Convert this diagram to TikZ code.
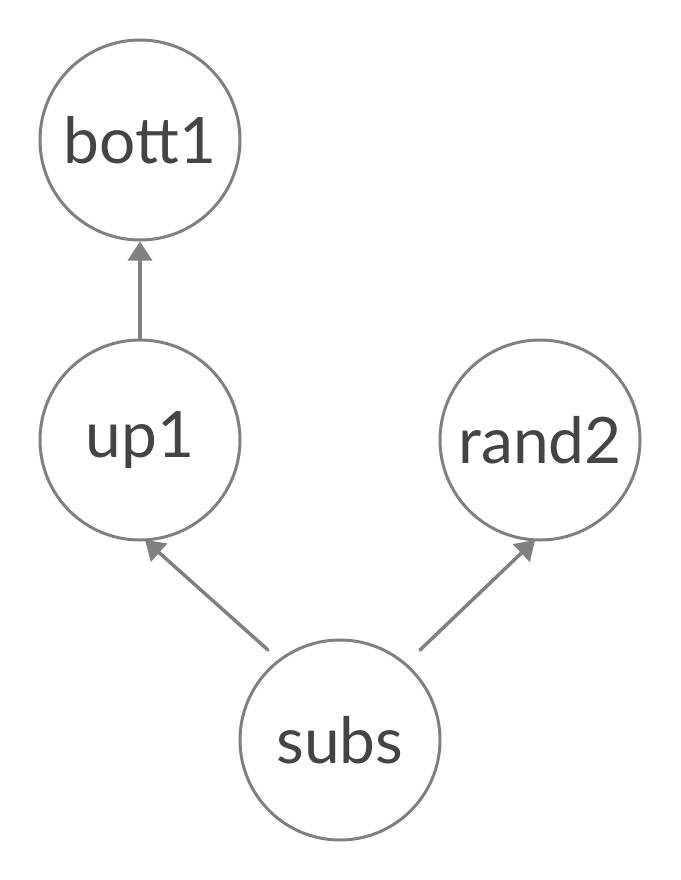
\documentclass[tikz,border=0pt]{standalone}
\usepackage{fontspec}
\setmainfont{Lato}
\usetikzlibrary{arrows.meta,calc}
\definecolor{edgegray}{HTML}{808080}
\definecolor{textgray}{HTML}{444444}
\begin{document}
\begin{tikzpicture}[x=1pt,y=-1pt,
  vnode/.style={circle,draw=edgegray,line width=3pt,minimum size=200pt,inner sep=0pt,
    text=textgray,font=\fontsize{64}{66}\selectfont},
  conn/.style={draw=edgegray,line width=3.5pt,line cap=round,
    -{Triangle[length=19pt,width=24pt]}}]
\useasboundingbox (0,0) rectangle (680,880);
\node[vnode] (bott1) at (140,140) {bott1};
\node[vnode] (up1) at (140,440) {up1};
\node[vnode] (rand2) at (540,440) {rand2};
\node[vnode] (subs) at (340,740) {subs};
\coordinate (sa) at ($(subs)+(-72,-90)$);
\coordinate (sb) at ($(subs)+(80,-90)$);
\coordinate (ua) at ($(up1)+(0,-102)$);
\draw[conn] (ua) -- (bott1.south);
\draw[conn] (sa) -- ($(up1)+(5,100)$);
\draw[conn] (sb) -- ($(rand2)+(-5,100)$);
\end{tikzpicture}
\end{document}
